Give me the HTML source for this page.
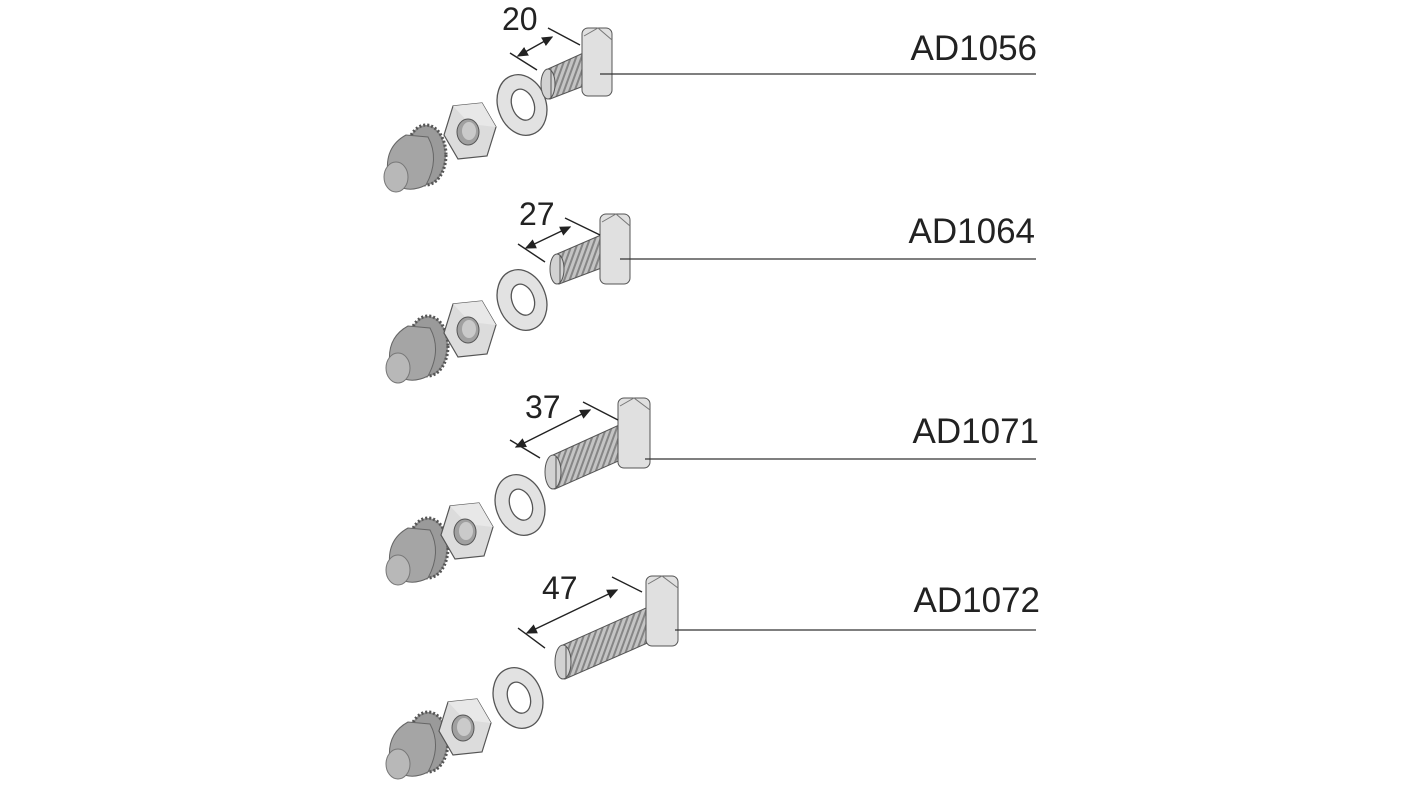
<!DOCTYPE html>
<html><head><style>
html,body{margin:0;padding:0;background:#fff;}
svg{display:block;}
text{font-family:"Liberation Sans",sans-serif;fill:#222;}
</style></head><body>
<svg width="1420" height="798" viewBox="0 0 1420 798" xmlns="http://www.w3.org/2000/svg">
<defs>
 <marker id="ar" markerWidth="8" markerHeight="8" refX="7" refY="4" orient="auto-start-reverse"><path d="M0,0.5 L8,4 L0,7.5 z" fill="#222"/></marker>
 <pattern id="thr" width="5" height="10" patternUnits="userSpaceOnUse" patternTransform="rotate(20)"><rect width="5" height="10" fill="#c4c4c4"/><rect width="2" height="10" fill="#858585"/></pattern>
 <g id="knob">
  <ellipse cx="14" cy="-10" rx="20" ry="30" fill="#8d8d8d" stroke="#555" stroke-dasharray="2 2" stroke-width="3"/>
  <ellipse cx="14" cy="-10" rx="18" ry="28" fill="#9a9a9a"/>
  <path d="M-24,10 Q-28,-18 -6,-30 L16,-28 Q28,-6 14,20 Q-10,32 -24,10z" fill="#a5a5a5" stroke="#666" stroke-width="1"/>
  <ellipse cx="-16" cy="12" rx="12" ry="15" fill="#b8b8b8" stroke="#777"/>
 </g>
 <g id="nut">
  <polygon points="-17,-26 12,-29 26,-5 17,24 -12,27 -26,3" fill="#dcdcdc" stroke="#555" stroke-width="1.2"/>
  <polygon points="-17,-26 12,-29 26,-5 0,-8" fill="#e8e8e8" stroke="none"/>
  <ellipse cx="-2" cy="0" rx="11" ry="13" fill="#a0a0a0" stroke="#555"/>
  <ellipse cx="-1" cy="-1" rx="7" ry="9" fill="#cacaca"/>
 </g>
 <g id="washer">
  <ellipse cx="0" cy="0" rx="24" ry="31" transform="rotate(-20)" fill="#e2e2e2" stroke="#555" stroke-width="1.3"/>
  <ellipse cx="1" cy="0" rx="11" ry="16" transform="rotate(-20)" fill="#fff" stroke="#555" stroke-width="1.3"/>
 </g>
</defs>
<g stroke="#222" stroke-width="1.3" fill="none">
</g>

<!-- Row 1: T=(548,84) E=(590,66) -->
<use href="#knob" x="412" y="165"/>
<use href="#nut" x="470" y="132"/>
<use href="#washer" x="522" y="105"/>
<polygon points="548,69 590,50 594,82 550,99" fill="url(#thr)" stroke="#555"/>
<ellipse cx="548" cy="84" rx="7" ry="15" fill="#d2d2d2" stroke="#555"/>
<line x1="551" y1="70" x2="551" y2="98" stroke="#555"/>
<rect x="582" y="28" width="30" height="68" rx="6" fill="#e0e0e0" stroke="#555"/>
<path d="M584,36 L598,28 L612,40" fill="none" stroke="#777"/>
<line x1="510" y1="53" x2="537" y2="70" stroke="#222" stroke-width="1.4"/>
<line x1="548" y1="28" x2="580" y2="45" stroke="#222" stroke-width="1.4"/>
<line x1="518" y1="56" x2="552" y2="37" stroke="#222" stroke-width="1.4" marker-start="url(#ar)" marker-end="url(#ar)"/>
<text x="502" y="30" font-size="32">20</text>
<line x1="600" y1="74" x2="1036" y2="74" stroke="#333" stroke-width="1.3"/>
<text x="1037" y="60" font-size="35" text-anchor="end">AD1056</text>

<!-- Row 2 -->
<use href="#knob" x="414" y="356"/>
<use href="#nut" x="470" y="330"/>
<use href="#washer" x="522" y="300"/>
<polygon points="557,254 608,232 612,264 559,284" fill="url(#thr)" stroke="#555"/>
<ellipse cx="557" cy="269" rx="7" ry="15" fill="#d2d2d2" stroke="#555"/>
<line x1="560" y1="255" x2="560" y2="283" stroke="#555"/>
<rect x="600" y="214" width="30" height="70" rx="6" fill="#e0e0e0" stroke="#555"/>
<path d="M602,222 L616,214 L630,226" fill="none" stroke="#777"/>
<line x1="518" y1="244" x2="545" y2="262" stroke="#222" stroke-width="1.4"/>
<line x1="565" y1="218" x2="600" y2="235" stroke="#222" stroke-width="1.4"/>
<line x1="526" y1="248" x2="570" y2="227" stroke="#222" stroke-width="1.4" marker-start="url(#ar)" marker-end="url(#ar)"/>
<text x="519" y="225" font-size="32">27</text>
<line x1="620" y1="259" x2="1036" y2="259" stroke="#333" stroke-width="1.3"/>
<text x="1035" y="243" font-size="35" text-anchor="end">AD1064</text>

<!-- Row 3 -->
<use href="#knob" x="414" y="558"/>
<use href="#nut" x="467" y="532"/>
<use href="#washer" x="520" y="505"/>
<polygon points="553,455 628,421 632,455 555,489" fill="url(#thr)" stroke="#555"/>
<ellipse cx="553" cy="472" rx="8" ry="17" fill="#d2d2d2" stroke="#555"/>
<line x1="556" y1="456" x2="556" y2="488" stroke="#555"/>
<rect x="618" y="398" width="32" height="70" rx="6" fill="#e0e0e0" stroke="#555"/>
<path d="M620,406 L634,398 L650,410" fill="none" stroke="#777"/>
<line x1="510" y1="440" x2="540" y2="458" stroke="#222" stroke-width="1.4"/>
<line x1="583" y1="402" x2="618" y2="420" stroke="#222" stroke-width="1.4"/>
<line x1="516" y1="447" x2="590" y2="410" stroke="#222" stroke-width="1.4" marker-start="url(#ar)" marker-end="url(#ar)"/>
<text x="525" y="418" font-size="32">37</text>
<line x1="645" y1="459" x2="1036" y2="459" stroke="#333" stroke-width="1.3"/>
<text x="1039" y="443" font-size="35" text-anchor="end">AD1071</text>

<!-- Row 4 -->
<use href="#knob" x="414" y="752"/>
<use href="#nut" x="465" y="728"/>
<use href="#washer" x="518" y="698"/>
<polygon points="563,645 655,604 659,638 565,679" fill="url(#thr)" stroke="#555"/>
<ellipse cx="563" cy="662" rx="8" ry="17" fill="#d2d2d2" stroke="#555"/>
<line x1="566" y1="646" x2="566" y2="678" stroke="#555"/>
<rect x="646" y="576" width="32" height="70" rx="6" fill="#e0e0e0" stroke="#555"/>
<path d="M648,584 L662,576 L678,588" fill="none" stroke="#777"/>
<line x1="518" y1="628" x2="545" y2="648" stroke="#222" stroke-width="1.4"/>
<line x1="612" y1="577" x2="642" y2="592" stroke="#222" stroke-width="1.4"/>
<line x1="527" y1="633" x2="617" y2="590" stroke="#222" stroke-width="1.4" marker-start="url(#ar)" marker-end="url(#ar)"/>
<text x="542" y="599" font-size="32">47</text>
<line x1="675" y1="630" x2="1036" y2="630" stroke="#333" stroke-width="1.3"/>
<text x="1040" y="612" font-size="35" text-anchor="end">AD1072</text>
</svg>
</body></html>
